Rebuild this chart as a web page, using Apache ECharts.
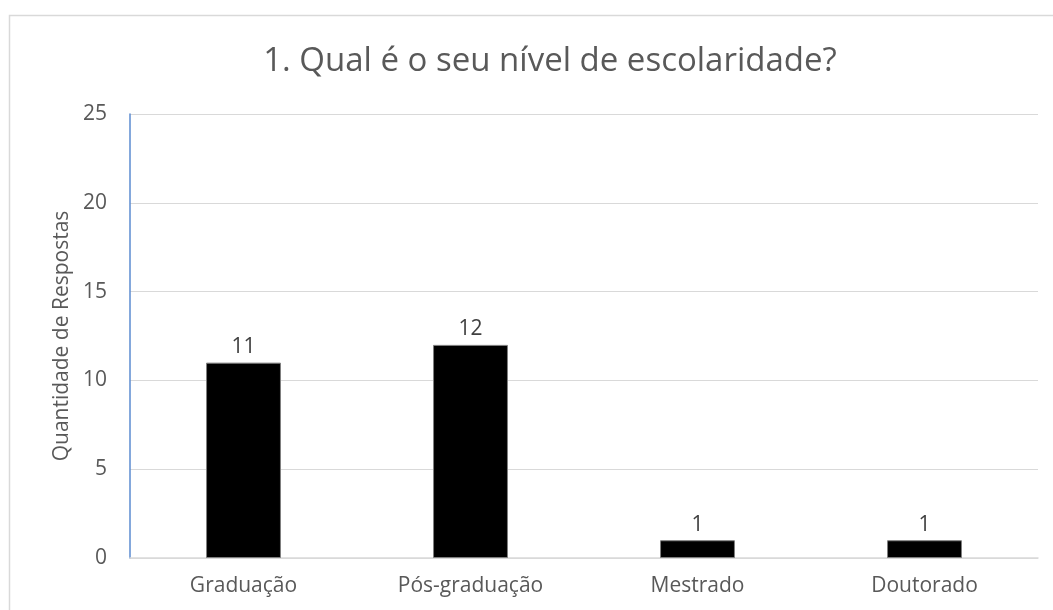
<!DOCTYPE html>
<html><head><meta charset="utf-8">
<script src="https://cdn.jsdelivr.net/npm/echarts@6/dist/echarts.min.js"></script>
<style>html,body{margin:0;padding:0;background:#fff}#c{width:1053px;height:610px}</style>
</head><body><div id="c"></div>
<script>
const categories = ['Graduação', 'Pós-graduação', 'Mestrado', 'Doutorado'];
const values = [11, 12, 1, 1];
const yTicks = { min: 0, max: 25, interval: 5 };
const titleText = '1. Qual é o seu nível de escolaridade?';
const yName = 'Quantidade de Respostas';

const chart = echarts.init(document.getElementById('c'), null, { renderer: 'canvas' });
const font = '"Open Sans", "Liberation Sans", sans-serif';
chart.setOption({
  animation: false,
  textStyle: { fontFamily: font },
  graphic: [{
    type: 'rect', shape: { x: 9.5, y: 15.5, width: 1060, height: 620 },
    style: { fill: 'none', stroke: '#d9d9d9', lineWidth: 1.5 }, silent: true, z: -1
  }],
  title: {
    text: titleText, left: 545, top: 40, textAlign: 'center',
    textStyle: { fontFamily: font, fontSize: 33, fontWeight: 'normal', color: '#595959' }
  },
  grid: { left: 130, right: 15, top: 114, bottom: 52 },
  xAxis: {
    type: 'category', data: categories,
    axisLine: { show: true, lineStyle: { color: '#d9d9d9', width: 1.5 } },
    axisTick: { show: false },
    axisLabel: { fontFamily: font, fontSize: 21, color: '#595959', margin: 18 }
  },
  yAxis: {
    type: 'value', min: yTicks.min, max: yTicks.max, interval: yTicks.interval,
    name: yName, nameLocation: 'middle', nameGap: 56,
    nameTextStyle: { fontFamily: font, fontSize: 21, color: '#595959' },
    axisLine: { show: true, lineStyle: { color: '#5b8bd0', width: 1.5 } },
    axisTick: { show: false },
    axisLabel: { fontFamily: font, fontSize: 21, color: '#595959', margin: 23 },
    splitLine: { show: true, lineStyle: { color: '#d9d9d9', width: 1 } }
  },
  series: [{
    type: 'bar', data: values, barWidth: '33%',
    itemStyle: { color: '#000', borderColor: '#7f7f7f', borderWidth: 1 },
    label: { show: true, position: 'top', distance: 5, fontFamily: font, fontSize: 21, color: '#404040' }
  }]
});
</script></body></html>
